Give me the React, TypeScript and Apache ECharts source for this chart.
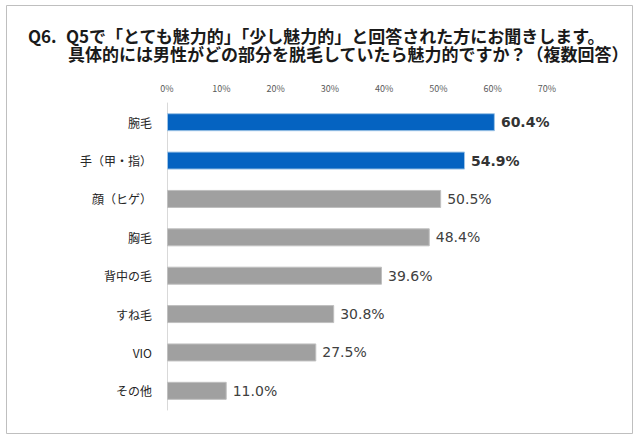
import React, { useEffect, useRef } from "react";
import * as echarts from "echarts";

const categories = ["腕毛", "手（甲・指）", "顔（ヒゲ）", "胸毛", "背中の毛", "すね毛", "VIO", "その他"];
const values = [60.4, 54.9, 50.5, 48.4, 39.6, 30.8, 27.5, 11.0];
const highlighted = [true, true, false, false, false, false, false, false];
const titleLine1Prefix = "Q6.";
const titleLine1 = "Q5で「とても魅力的」「少し魅力的」と回答された方にお聞きします。";
const titleLine2 = "具体的には男性がどの部分を脱毛していたら魅力的ですか？（複数回答）";

const FONT = "'Noto Sans CJK JP', 'Noto Sans', sans-serif";
const NUMFONT = "'DejaVu Sans', Verdana, sans-serif";

export default function App() {
  const ref = useRef<HTMLDivElement>(null);
  useEffect(() => {
    if (!ref.current) return;
    const chart = echarts.init(ref.current, null, { renderer: "svg" });
    chart.setOption({
      animation: false,
      backgroundColor: "#ffffff",
      graphic: [
        {
          type: "rect",
          shape: { x: 6.5, y: 5.5, width: 626, height: 428 },
          style: { fill: "none", stroke: "#BFBFBF", lineWidth: 1 },
          silent: true,
        },
        {
          type: "text",
          x: 28,
          y: 35,
          style: { text: titleLine1Prefix, font: `bold 17px ${FONT}`, fill: "#1a1a1a", verticalAlign: "middle" },
        },
        {
          type: "text",
          x: 66,
          y: 35,
          style: { text: titleLine1, font: `bold 17px ${FONT}`, fill: "#1a1a1a", verticalAlign: "middle" },
        },
        {
          type: "text",
          x: 68,
          y: 53,
          style: { text: titleLine2, font: `bold 17px ${FONT}`, fill: "#1a1a1a", verticalAlign: "middle" },
        },
      ],
      grid: { left: 167, right: 93, top: 103, bottom: 31, containLabel: false },
      xAxis: {
        type: "value",
        position: "top",
        min: 0,
        max: 70,
        interval: 10,
        axisLine: { show: false },
        axisTick: { show: false },
        splitLine: { show: false },
        axisLabel: {
          formatter: "{value}%",
          fontSize: 9,
          color: "#595959",
          fontFamily: FONT,
          margin: 10,
        },
      },
      yAxis: {
        type: "category",
        data: categories,
        inverse: true,
        axisLine: { show: true, lineStyle: { color: "#D9D9D9", width: 1 } },
        axisTick: { show: false },
        axisLabel: { fontSize: 12, color: "#262626", fontFamily: FONT, margin: 15 },
      },
      series: [
        {
          type: "bar",
          barWidth: 18,
          data: values.map((v, i) => ({
            value: v,
            itemStyle: highlighted[i]
              ? { color: "#0563C1", borderColor: "#9DC3E6", borderWidth: 1 }
              : { color: "#A0A0A0", borderColor: "#BFBFBF", borderWidth: 1 },
            label: highlighted[i]
              ? { fontSize: 14, fontWeight: "bold", color: "#333333" }
              : { fontSize: 14, fontWeight: "normal", color: "#404040" },
          })),
          label: {
            show: true,
            position: "right",
            distance: 6,
            fontFamily: NUMFONT,
            formatter: (p: any) => p.value.toFixed(1) + "%",
          },
        },
      ],
    });
    return () => chart.dispose();
  }, []);
  return <div ref={ref} style={{ width: 640, height: 441, position: "absolute", left: 0, top: 0 }} />;
}
